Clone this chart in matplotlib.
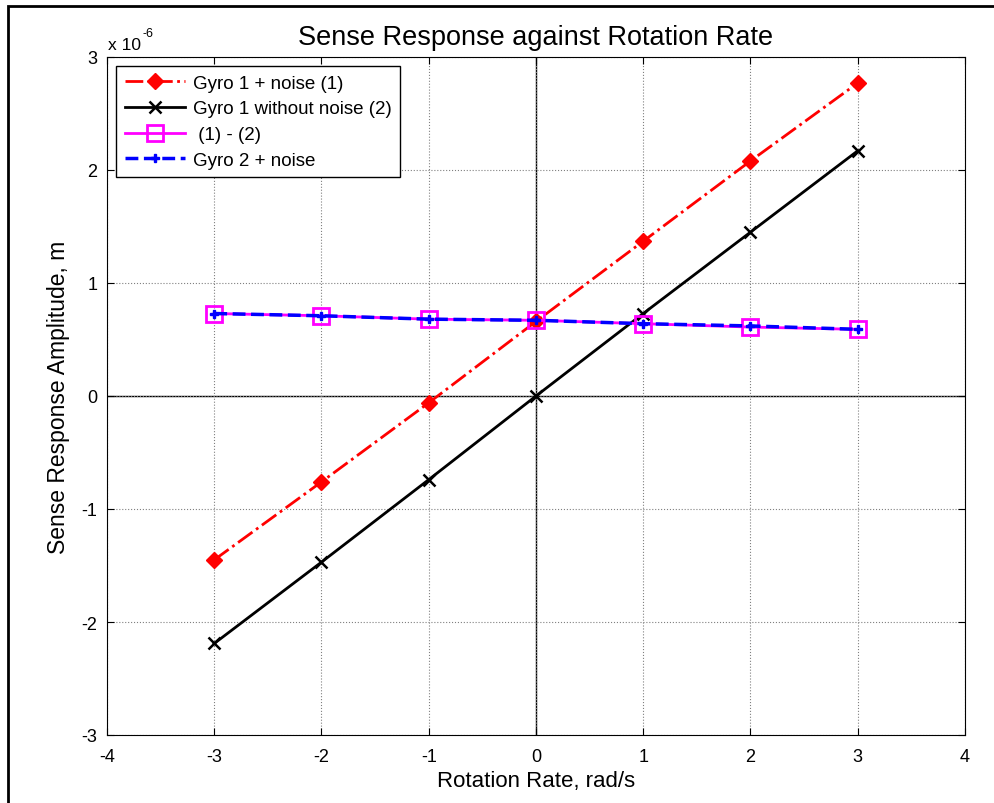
import numpy as np
import matplotlib
matplotlib.use("Agg")
import matplotlib.pyplot as plt
from matplotlib.patches import Rectangle

plt.rcParams['font.family'] = ['Liberation Sans', 'DejaVu Sans']
plt.rcParams['axes.unicode_minus'] = False

# rotation rate, rad/s
rate = [-3, -2, -1, 0, 1, 2, 3]

# sense response amplitudes, in units of 1e-6 m
gyro1_noise = [-1.45, -0.76, -0.06, 0.66, 1.37, 2.08, 2.77]
gyro1_clean = [-2.19, -1.47, -0.74, 0.0, 0.73, 1.45, 2.17]
difference = [0.73, 0.71, 0.68, 0.67, 0.64, 0.61, 0.59]
gyro2_noise = [0.73, 0.71, 0.68, 0.67, 0.64, 0.62, 0.59]

fig = plt.figure(figsize=(9.95, 8.04), dpi=100)
ax = fig.add_axes([107/995, 1-736/804, (965-107)/995, (736-58)/804])

# outer frame round the figure
fig.patches.append(Rectangle((8/995, -0.05), 1.1, 1-7/804+0.05, transform=fig.transFigure,
                             fill=False, edgecolor='black', linewidth=2.0))

ax.axhline(0, color='black', linewidth=1.0, zorder=1)
ax.axvline(0, color='black', linewidth=1.0, zorder=1)

ax.plot(rate, gyro1_noise, '-.', color='red', marker='D', markersize=8, linewidth=2,
        label='Gyro 1 + noise (1)', zorder=3)
ax.plot(rate, gyro1_clean, '-', color='black', marker='x', markersize=9, markeredgewidth=1.8,
        linewidth=2, label='Gyro 1 without noise (2)', zorder=3)
ax.plot(rate, difference, '-', color='magenta', marker='s', markersize=11, markerfacecolor='none',
        markeredgewidth=2, linewidth=2, label=' (1) - (2)', zorder=3)
ax.plot(rate, gyro2_noise, '--', color='blue', marker='P', markersize=6, linewidth=2.5,
        label='Gyro 2 + noise', zorder=4)

ax.set_xlim(-4, 4)
ax.set_ylim(-3, 3)
ax.set_xticks(np.arange(-4, 5, 1))
ax.set_yticks(np.arange(-3, 4, 1))
ax.grid(True, linestyle=':', color='gray', linewidth=0.8)
ax.tick_params(direction='in', top=True, right=True, labelsize=13, length=5)
ax.tick_params(axis='x', pad=9)
ax.tick_params(axis='y', pad=7)

ax.set_title('Sense Response against Rotation Rate', fontsize=19.5, pad=9)
ax.set_xlabel('Rotation Rate, rad/s', fontsize=16, labelpad=4)
ax.set_ylabel('Sense Response Amplitude, m', fontsize=16.5, labelpad=8)

# exponent label above the y axis
ax.text(0.001, 1.008, 'x 10', transform=ax.transAxes, fontsize=12.5, ha='left', va='bottom')
ax.text(0.041, 1.026, '-6', transform=ax.transAxes, fontsize=9, ha='left', va='bottom')

leg = ax.legend(loc='upper left', fontsize=13.5, fancybox=False, framealpha=1,
                edgecolor='black', borderaxespad=0.5, handlelength=3.2, handletextpad=0.45,
                labelspacing=0.45, borderpad=0.45)
leg.get_frame().set_linewidth(1.0)

fig.savefig('out.png', dpi=100)
